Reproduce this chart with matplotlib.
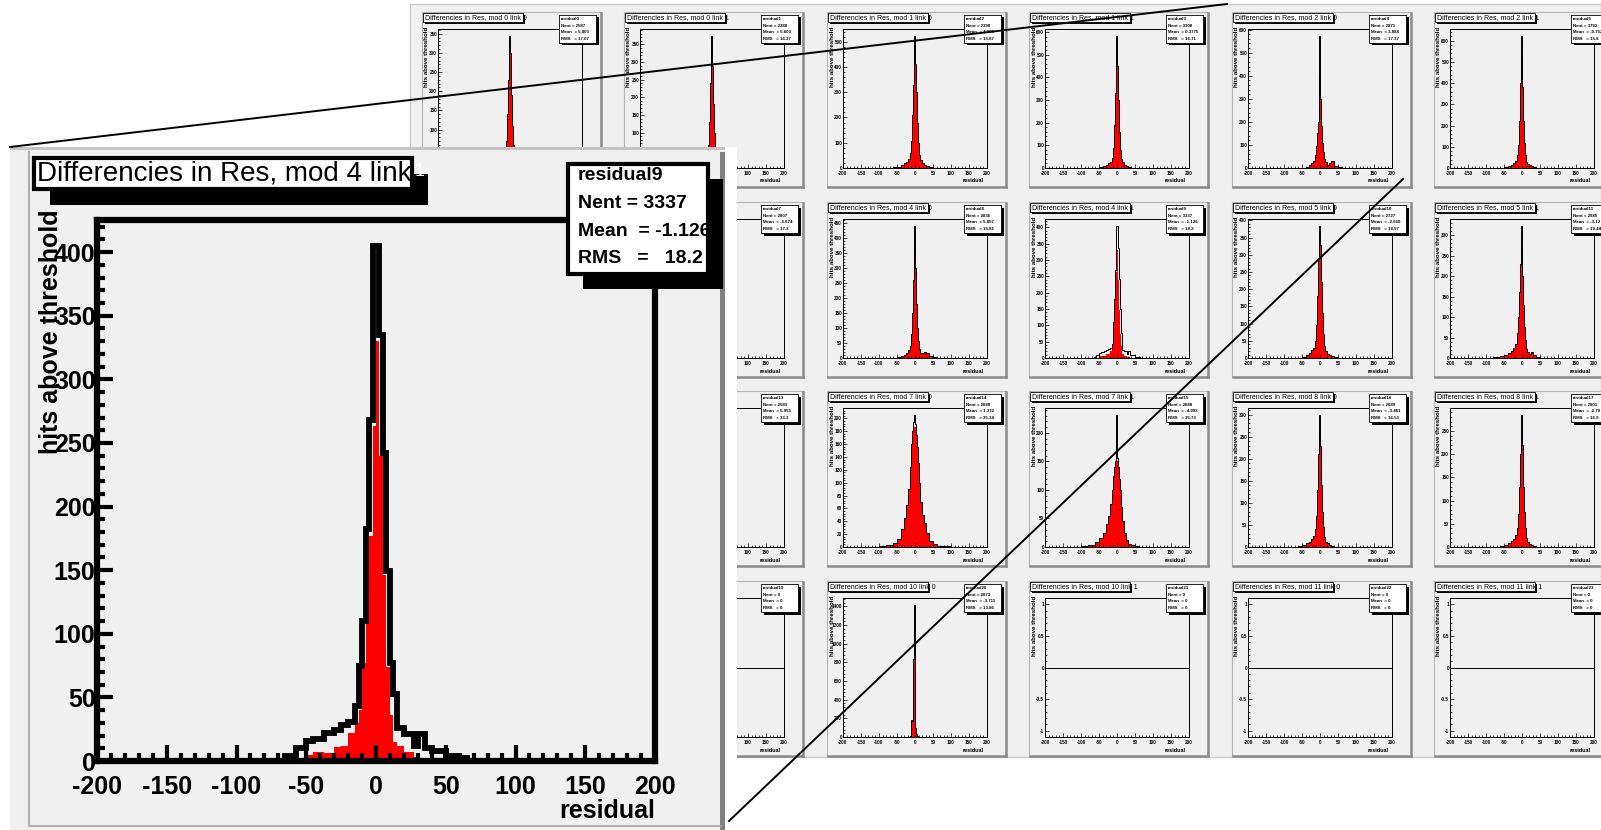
import matplotlib
matplotlib.use("Agg")
import matplotlib.pyplot as plt
import matplotlib.ticker as mticker
from matplotlib.patches import Rectangle

plt.rcParams['font.family'] = ['Liberation Sans', 'DejaVu Sans']
plt.rcParams['font.weight'] = 'bold'
plt.rcParams['axes.unicode_minus'] = False

W, H = 1601, 830
PAD_BG = '#f0f0f0'

# ---- data ---------------------------------------------------------------
# bin edges (residual) used for the small pads
EDGES_SMALL = [-100, -80, -60, -50, -40, -30, -25, -20, -15, -10, -7.5, -5, -2.5,
               0, 2.5, 5, 7.5, 10, 15, 20, 25, 30, 40, 50, 60, 80, 100]
# finer binning for the enlarged pad (mod 4 link 1)
EDGES_ZOOM = [-65, -57.5, -50, -45, -37.5, -30, -25, -20, -15, -12.5, -10, -7.5, -5,
              -2.5, 0, 2.5, 5, 7.5, 10, 12.5, 15, 20, 27.5, 30, 35, 40, 50, 57.5, 65]

ZOOM_ALL = [4, 10, 16, 17, 22, 24, 28, 31, 43, 75, 110, 182, 268, 405,
            405, 335, 242, 149, 77, 53, 26, 21, 12, 21, 10, 8, 4, 2]
ZOOM_SEL = [0, 0, 5, 7, 6, 11, 12, 22, 30, 40, 77, 142, 177, 263,
            330, 240, 146, 74, 36, 15, 12, 7, 3, 2, 1, 0, 0, 0]

M0L0_ALL = [0, 0, 1, 2, 3, 5, 8, 15, 35, 70, 140, 230, 345, 300, 190, 110, 60, 25, 10, 5, 3, 2, 1, 0, 0, 0]
M0L0_SEL = [0, 0, 1, 2, 3, 5, 8, 15, 35, 70, 140, 230, 335, 300, 190, 110, 60, 25, 10, 5, 3, 2, 1, 0, 0, 0]
M0L1_ALL = [0, 0, 1, 2, 3, 5, 8, 15, 30, 65, 130, 240, 375, 290, 180, 100, 55, 25, 10, 5, 3, 2, 1, 0, 0, 0]
M0L1_SEL = [0, 0, 1, 2, 3, 5, 8, 15, 30, 65, 130, 240, 335, 290, 180, 100, 55, 25, 10, 5, 3, 2, 1, 0, 0, 0]
M1L0_ALL = [0, 1, 2, 4, 10, 18, 25, 35, 60, 105, 210, 330, 524, 410, 300, 180, 100, 50, 30, 20, 12, 6, 3, 1, 0, 0]
M1L0_SEL = [0, 1, 2, 4, 10, 18, 25, 35, 60, 105, 210, 330, 408, 408, 300, 180, 100, 50, 30, 20, 12, 6, 3, 1, 0, 0]
M1L1_ALL = [0, 0, 1, 3, 8, 15, 20, 28, 45, 90, 190, 330, 585, 450, 300, 160, 80, 40, 25, 15, 10, 5, 2, 1, 0, 0]
M1L1_SEL = [0, 0, 1, 3, 8, 15, 20, 28, 45, 90, 190, 330, 451, 450, 300, 160, 80, 40, 25, 15, 10, 5, 2, 1, 0, 0]
M2L0_ALL = [0, 0, 1, 2, 6, 12, 20, 30, 55, 95, 150, 200, 574, 300, 180, 110, 70, 40, 25, 15, 22, 30, 10, 3, 1, 0]
M2L0_SEL = [0, 0, 1, 2, 6, 12, 20, 30, 55, 95, 150, 200, 404, 300, 180, 110, 70, 40, 25, 15, 22, 30, 10, 3, 1, 0]
M2L1_ALL = [0, 0, 1, 3, 8, 15, 25, 35, 60, 110, 220, 400, 624, 380, 220, 120, 60, 30, 18, 12, 8, 5, 2, 1, 0, 0]
M2L1_SEL = [0, 0, 1, 3, 8, 15, 25, 35, 60, 110, 220, 400, 562, 380, 220, 120, 60, 30, 18, 12, 8, 5, 2, 1, 0, 0]
M4L0_ALL = [0, 0, 1, 2, 5, 10, 15, 25, 40, 80, 150, 260, 440, 300, 180, 100, 55, 30, 18, 15, 20, 18, 6, 2, 1, 0]
M4L0_SEL = [0, 0, 1, 2, 5, 10, 15, 25, 40, 80, 150, 260, 350, 300, 180, 100, 55, 30, 18, 15, 20, 18, 6, 2, 1, 0]
M5L0_ALL = [0, 0, 1, 3, 8, 15, 22, 30, 50, 95, 180, 290, 385, 330, 220, 130, 70, 35, 20, 12, 8, 5, 2, 1, 0, 0]
M5L0_SEL = [0, 0, 1, 3, 8, 15, 22, 30, 50, 95, 180, 290, 330, 330, 220, 130, 70, 35, 20, 12, 8, 5, 2, 1, 0, 0]
M5L1_ALL = [0, 2, 5, 8, 12, 18, 25, 35, 60, 100, 160, 230, 323, 200, 130, 75, 45, 22, 14, 10, 14, 8, 3, 1, 0, 0]
M5L1_SEL = [0, 2, 5, 8, 12, 18, 25, 35, 60, 100, 160, 230, 286, 200, 130, 75, 45, 22, 14, 10, 14, 8, 3, 1, 0, 0]
M7L0_ALL = [1, 3, 6, 12, 28, 45, 65, 90, 125, 160, 180, 195, 206, 192, 175, 155, 130, 100, 70, 50, 38, 22, 10, 5, 2, 1]
M7L0_SEL = [1, 3, 6, 12, 28, 45, 65, 90, 125, 160, 180, 187, 187, 187, 175, 155, 130, 100, 70, 50, 38, 22, 10, 5, 2, 1]
M7L1_ALL = [2, 4, 8, 15, 25, 40, 55, 75, 100, 125, 140, 150, 232, 156, 140, 120, 100, 70, 45, 25, 12, 6, 3, 1, 0, 0]
M7L1_SEL = [2, 4, 8, 15, 25, 40, 55, 75, 100, 125, 140, 150, 150, 150, 140, 120, 100, 70, 45, 25, 12, 6, 3, 1, 0, 0]
M8L0_ALL = [0, 1, 2, 4, 8, 12, 18, 25, 40, 70, 130, 210, 300, 230, 140, 80, 45, 22, 12, 8, 5, 3, 1, 0, 0, 0]
M8L0_SEL = [0, 1, 2, 4, 8, 12, 18, 25, 40, 70, 130, 210, 258, 230, 140, 80, 45, 22, 12, 8, 5, 3, 1, 0, 0, 0]
M8L1_ALL = [0, 1, 2, 4, 8, 12, 18, 25, 40, 70, 130, 200, 285, 220, 130, 75, 40, 20, 10, 6, 4, 2, 1, 0, 0, 0]
M8L1_SEL = [0, 1, 2, 4, 8, 12, 18, 25, 40, 70, 130, 200, 232, 220, 130, 75, 40, 20, 10, 6, 4, 2, 1, 0, 0, 0]
M10L0_ALL = [0, 0, 0, 0, 0, 1, 2, 4, 10, 180, 170, 840, 1420, 100, 30, 10, 4, 2, 1, 0, 0, 0, 0, 0, 0, 0]
M10L0_SEL = [0, 0, 0, 0, 0, 1, 2, 4, 10, 170, 170, 840, 840, 100, 30, 10, 4, 2, 1, 0, 0, 0, 0, 0, 0, 0]

# stat box contents, pad index = row*6 + col
NENT = [2587, 2388, 2398, 3308, 2871, 3792,
        2655, 2807, 2836, 3337, 2727, 2985,
        2540, 2583, 2688, 2688, 2689, 2801,
        0, 0, 2873, 0, 0, 0]
MEAN = [5.803, 5.603, 4.981, 0.3775, 3.888, -0.752,
        -2.9, -5.674, 5.857, -1.126, -2.669, -3.12,
        4.2, 5.955, 1.332, -4.993, -3.461, -2.78,
        0, 0, -3.711, 0, 0, 0]
RMS = [17.07, 16.27, 15.87, 16.71, 17.37, 15.8,
       17.1, 17.3, 15.81, 18.2, 18.57, 19.44,
       33.1, 33.3, 35.34, 35.73, 16.53, 16.9,
       0, 0, 13.86, 0, 0, 0]

HISTS = {0: (EDGES_SMALL, M0L0_ALL, M0L0_SEL), 1: (EDGES_SMALL, M0L1_ALL, M0L1_SEL),
         2: (EDGES_SMALL, M1L0_ALL, M1L0_SEL), 3: (EDGES_SMALL, M1L1_ALL, M1L1_SEL),
         4: (EDGES_SMALL, M2L0_ALL, M2L0_SEL), 5: (EDGES_SMALL, M2L1_ALL, M2L1_SEL),
         8: (EDGES_SMALL, M4L0_ALL, M4L0_SEL), 9: (EDGES_ZOOM, ZOOM_ALL, ZOOM_SEL),
         10: (EDGES_SMALL, M5L0_ALL, M5L0_SEL), 11: (EDGES_SMALL, M5L1_ALL, M5L1_SEL),
         14: (EDGES_SMALL, M7L0_ALL, M7L0_SEL), 15: (EDGES_SMALL, M7L1_ALL, M7L1_SEL),
         16: (EDGES_SMALL, M8L0_ALL, M8L0_SEL), 17: (EDGES_SMALL, M8L1_ALL, M8L1_SEL),
         20: (EDGES_SMALL, M10L0_ALL, M10L0_SEL)}

# canvas layout in pixels
COL_X = [422, 624, 827, 1029, 1232, 1434]
ROW_Y = [12, 202, 391, 581]
INSET = (10, 147, 737, 830)   # enlarged pad covers this pixel box


def px_rect(x, y, w, h):
    return [x / W, 1 - (y + h) / H, w / W, h / H]


def under_inset(px, py):
    return INSET[0] <= px <= INSET[2] and INSET[1] <= py <= INSET[3]


def pixel_axes(z):
    a = fig.add_axes([0, 0, 1, 1], zorder=z)
    a.set_xlim(0, W)
    a.set_ylim(H, 0)
    a.axis('off')
    return a


def shadow_box(ax, x, y, w, h, d, lw):
    ax.add_patch(Rectangle((x + d, y + d), w, h, fc='black', ec='none'))
    ax.add_patch(Rectangle((x, y), w, h, fc='white', ec='black', lw=lw))


def masked_formatter(ax, which, fx, fy):
    # labels hidden under the enlarged pad are left empty
    def fmt(v, pos):
        if which == 'x':
            px, py = fx + (v + 200) / 400 * 144, fy + 146
        else:
            lo, hi = ax.get_ylim()
            px, py = fx - 6, fy + 139 - (v - lo) / (hi - lo) * 139
        return '' if under_inset(px, py) else '%g' % v
    return mticker.FuncFormatter(fmt)


def style_frame(ax, lw, maj, mnr, tw, size, xpad, ypad):
    ax.set_facecolor('none')
    ax.set_axisbelow(False)
    for s in ax.spines.values():
        s.set_linewidth(lw)
    ax.set_xlim(-200, 200)
    ax.xaxis.set_major_locator(mticker.MultipleLocator(50))
    ax.xaxis.set_minor_locator(mticker.MultipleLocator(10))
    ax.yaxis.set_major_formatter(mticker.FormatStrFormatter('%g'))
    ax.tick_params(which='both', direction='in', top=False, right=False, width=tw)
    ax.tick_params(which='major', length=maj)
    ax.tick_params(which='minor', length=mnr)
    ax.tick_params(axis='x', labelsize=size, pad=xpad)
    ax.tick_params(axis='y', labelsize=size, pad=ypad)


def draw_hist(ax, idx, lw):
    if idx in HISTS:
        edges, allv, sel = HISTS[idx]
        ax.stairs(sel, edges, fill=True, color='red', lw=0)
        ax.stairs(allv, edges, color='black', lw=lw)
        ax.set_ylim(0, 1.05 * max(allv))
        ax.yaxis.set_major_locator(mticker.MaxNLocator(nbins=11, steps=[1, 2, 5, 10]))
        ax.yaxis.set_minor_locator(mticker.AutoMinorLocator(5))
    elif NENT[idx] == 0:
        ax.axhline(0, color='black', lw=lw)
        ax.set_ylim(-1.1, 1.1)
        ax.yaxis.set_major_locator(mticker.FixedLocator([-1, -0.5, 0, 0.5, 1]))
        ax.yaxis.set_minor_locator(mticker.MultipleLocator(0.1))
    else:
        ax.set_ylim(0, 1)


def put_text(ax, x, y, s, **kw):
    if not under_inset(x, y):
        ax.text(x, y, s, **kw)


fig = plt.figure(figsize=(W / 100, H / 100), dpi=100)
fig.patch.set_facecolor('white')

# ---- canvas with the 6x4 pads ------------------------------------------
bg = pixel_axes(0)
ovs = pixel_axes(2)
bg.add_patch(Rectangle((410, 4), W - 410, 753, fc=PAD_BG, ec='#c8c8c8', lw=1))

for r, y0 in enumerate(ROW_Y):
    for c, x0 in enumerate(COL_X):
        idx = r * 6 + c
        bg.add_patch(Rectangle((x0, y0), 179, 175, fc=PAD_BG, ec='#b4b4b4', lw=0.8))
        bg.plot([x0 + 179, x0 + 179], [y0 + 1, y0 + 175], color='#8a8a8a', lw=1.8)
        bg.plot([x0 + 1, x0 + 179], [y0 + 175, y0 + 175], color='#8a8a8a', lw=1.8)

        fx, fy = x0 + 16, y0 + 17
        ax = fig.add_axes(px_rect(fx, fy, 144, 139), zorder=1)
        style_frame(ax, 0.7, 3, 1.5, 0.5, 3.3, 2.5, 0.6)
        draw_hist(ax, idx, 0.7)
        ax.xaxis.set_major_formatter(masked_formatter(ax, 'x', fx, fy))
        ax.yaxis.set_major_formatter(masked_formatter(ax, 'y', fx, fy))

        # title box
        shadow_box(ovs, x0 + 1, y0 + 1, 100, 9, 2, 0.6)
        put_text(ovs, x0 + 3, y0 + 5.8, 'Differencies in Res, mod %d link %d' % (idx // 2, idx % 2),
                 fontsize=5.0, fontweight='normal', va='center', ha='left')
        # stats box
        shadow_box(ovs, x0 + 137, y0 + 3, 37, 28, 2.5, 0.6)
        lines = ['residual%d' % idx, 'Nent = %d' % NENT[idx],
                 'Mean  = %.4g' % MEAN[idx], 'RMS   = %.4g' % RMS[idx]]
        for k, s in enumerate(lines):
            put_text(ovs, x0 + 139, y0 + 7 + 6.6 * k, s, fontsize=3.2, va='center', ha='left')
        # axis titles
        put_text(ovs, x0 + 5, y0 + 15, 'hits above threshold', rotation=90, fontsize=4.4,
                 va='top', ha='center')
        put_text(ovs, x0 + 157, y0 + 169, 'residual', fontsize=4.0, va='center', ha='right')

# ---- enlarged pad ------------------------------------------------------
ib = pixel_axes(3)
ib.add_patch(Rectangle((10, 147), 715, H - 147, fc=PAD_BG, ec='none'))
ib.add_patch(Rectangle((725, 147), 12, H - 147, fc='white', ec='none'))
ib.add_patch(Rectangle((10, 147), 715, 3, fc='#c4c4c4', ec='none'))
ib.add_patch(Rectangle((720, 152), 5, H - 152, fc='#808080', ec='none'))
ib.plot([29, 29], [152, 826], color='#b0b0b0', lw=1.5)
ib.plot([29, 720], [826, 826], color='#b0b0b0', lw=1.5)

zax = fig.add_axes(px_rect(97, 220, 558, 541), zorder=4)
style_frame(zax, 4.5, 11.5, 6, 3, 18, 10, 1)
draw_hist(zax, 9, 4.2)

ov = pixel_axes(5)
shadow_box(ov, 34, 158, 378, 31, 16, 3)
ov.text(37, 174, 'Differencies in Res, mod 4 link', fontsize=20, fontweight='normal',
        va='center', ha='left')
ov.text(415, 171, '1', fontsize=13, fontweight='normal', color='white', va='center', ha='left')

shadow_box(ov, 568, 164, 140, 110, 15, 3)
clip = Rectangle((570, 166), 136, 106, transform=ov.transData)
stat_lines = ['residual9', 'Nent = %d' % NENT[9], 'Mean  = %.4g' % MEAN[9], 'RMS   =   %.3g' % RMS[9]]
for k, s in enumerate(stat_lines):
    t = ov.text(578, 176 + 27.5 * k, s, fontsize=14, va='center', ha='left', clip_on=True)
    t.set_clip_path(clip)

ov.text(51, 209, 'hits above threshold', rotation=90, fontsize=18, va='top', ha='center')
ov.text(655, 811, 'residual', fontsize=18, va='center', ha='right')

# projection lines from the enlarged pad to the canvas
ov.plot([10, 1227], [147, 4], color='black', lw=1.4)
ov.plot([729, 1403], [821, 179], color='black', lw=1.4)

fig.savefig('out.png', dpi=100)
